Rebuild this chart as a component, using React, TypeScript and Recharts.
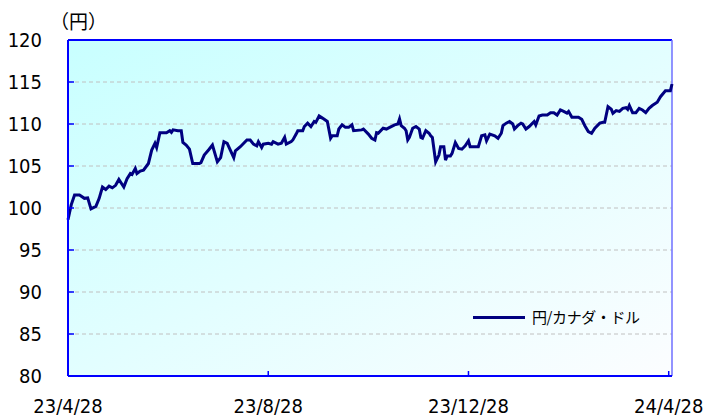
import React from "react";
import {
  LineChart,
  Line,
  XAxis,
  YAxis,
  CartesianGrid,
  ReferenceLine,
} from "recharts";

// day offsets from 2023/4/28
const days = [
  0, 2, 4, 7, 10, 12, 14, 17, 19, 21, 23, 25, 27, 29, 31, 34, 36, 38, 39, 41,
  42, 44, 46, 49, 51, 53, 54, 56, 60, 62, 63, 64, 67, 69, 70, 72, 74, 76, 80, 81,
  83, 86, 88, 91, 93, 95, 97, 101, 102, 105, 109, 111, 113, 115, 116, 118, 119, 122, 124, 125,
  128, 130, 132, 133, 136, 137, 139, 140, 143, 144, 146, 148, 150, 151, 153, 155, 158, 160, 161, 164,
  165, 167, 169, 171, 173, 174, 179, 180, 183, 185, 187, 188, 189, 192, 194, 196, 199, 201, 202, 203,
  205, 206, 207, 208, 210, 212, 214, 215, 216, 218, 220, 221, 222, 224, 226, 227, 229, 230, 231, 233,
  234, 236, 238, 240, 242, 244, 245, 248, 250, 252, 254, 255, 257, 260, 262, 264, 265, 267, 269, 271,
  272, 274, 276, 277, 279, 281, 284, 285, 287, 289, 292, 294, 296, 298, 300, 302, 304, 305, 307, 311,
  313, 315, 317, 319, 321, 324, 326, 327, 329, 331, 332, 334, 336, 338, 340, 341, 342, 344, 346, 348,
  350, 352, 354, 356, 359, 361, 364, 367, 368,
];

const jpyCad = [
  98.6, 100.4, 101.55, 101.55, 101.15, 101.2, 99.9, 100.2, 101.15, 102.5, 102.2, 102.6, 102.4, 102.7, 103.4, 102.5, 103.5, 104.1, 104.0, 104.7,
  104.1, 104.4, 104.5, 105.3, 106.9, 107.7, 107.2, 108.96, 108.96, 109.2, 109.0, 109.3, 109.2, 109.2, 107.8, 107.5, 107.0, 105.3, 105.3, 105.4,
  106.3, 107.0, 107.5, 105.5, 106.0, 107.9, 107.7, 106.0, 106.8, 107.3, 108.1, 108.1, 107.6, 107.4, 107.9, 107.2, 107.6, 107.7, 107.6, 107.9,
  107.6, 107.7, 108.4, 107.6, 107.9, 108.1, 108.8, 109.2, 109.2, 109.7, 110.1, 109.7, 110.3, 110.2, 110.95, 110.7, 110.3, 108.3, 108.6, 108.6,
  109.4, 109.9, 109.6, 109.6, 109.9, 109.2, 109.3, 109.4, 108.8, 108.3, 108.1, 108.96, 108.9, 109.5, 109.4, 109.6, 109.9, 110.0, 110.6, 109.8,
  109.5, 109.2, 108.1, 108.4, 109.5, 109.7, 109.4, 108.4, 108.3, 109.2, 108.9, 108.6, 108.4, 105.5, 106.3, 107.3, 107.3, 105.7, 106.2, 106.2,
  106.5, 107.8, 107.1, 107.0, 107.4, 108.0, 107.3, 107.3, 107.3, 108.6, 108.7, 108.0, 108.8, 108.6, 108.3, 108.9, 109.8, 110.1, 110.3, 110.0,
  109.4, 109.8, 110.1, 110.0, 109.4, 109.7, 110.3, 109.9, 110.95, 111.07, 111.07, 111.35, 111.35, 111.07, 111.67, 111.5, 111.3, 111.5, 110.8, 110.8,
  110.56, 109.76, 109.1, 108.9, 109.5, 110.1, 110.2, 110.2, 112.06, 111.75, 111.27, 111.6, 111.5, 111.86, 111.94, 111.75, 112.2, 111.35, 111.35, 111.86,
  111.67, 111.35, 111.86, 112.2, 112.6, 113.25, 113.96, 113.96, 114.76,
];

const xTickDays = [0, 122, 244, 366];
const xTickLabels = ["23/4/28", "23/8/28", "23/12/28", "24/4/28"];
const yTicks = [80, 85, 90, 95, 100, 105, 110, 115, 120];
const seriesName = "円/カナダ・ドル";
const unitLabel = "（円）";

const data = days.map((d, i) => ({ day: d, value: jpyCad[i] }));

const tickFont = "'DejaVu Sans Condensed', 'DejaVu Sans', sans-serif";
const cjkFont = "'Noto Sans CJK JP', 'Noto Sans', sans-serif";

const YTick = (props: any) => {
  const { x, y, payload } = props;
  return (
    <g>
      <line x1={x} x2={x + 6} y1={y} y2={y} stroke="#0000ff" strokeWidth={1.5} />
      <text
        x={x - 26}
        y={y}
        dy="0.36em"
        textAnchor="end"
        fill="#000"
        fontSize={20}
        fontFamily={tickFont}
      >
        {payload.value}
      </text>
    </g>
  );
};

const XTick = (props: any) => {
  const { x, y, payload } = props;
  const idx = xTickDays.indexOf(payload.value);
  return (
    <g>
      <line x1={x} x2={x} y1={y} y2={y - 5} stroke="#0000ff" strokeWidth={1.5} />
      <text
        x={x}
        y={y + 37}
        textAnchor="middle"
        fill="#000"
        fontSize={20}
        fontFamily={tickFont}
      >
        {idx >= 0 ? xTickLabels[idx] : ""}
      </text>
    </g>
  );
};

export default function App() {
  return (
    <div style={{ position: "absolute", left: 0, top: 0, width: 707, height: 417, background: "#fff" }}>
      <LineChart
        width={707}
        height={417}
        data={data}
        margin={{ top: 40, right: 35, bottom: 0, left: 0 }}
      >
        <defs>
          <linearGradient id="plotBg" x1="0" y1="0" x2="1" y2="1">
            <stop offset="0%" stopColor="#c8ffff" />
            <stop offset="100%" stopColor="#fcfdff" />
          </linearGradient>
        </defs>
        <CartesianGrid
          vertical={false}
          stroke="#c0c0c0"
          strokeDasharray="4 3"
          fill="url(#plotBg)"
          fillOpacity={1}
        />
        <XAxis
          dataKey="day"
          type="number"
          domain={[0, 368]}
          ticks={xTickDays}
          interval={0}
          height={41}
          tickSize={0}
          tickMargin={0}
          tickLine={false}
          axisLine={{ stroke: "#0000ff", strokeWidth: 2 }}
          tick={<XTick />}
        />
        <YAxis
          type="number"
          domain={[80, 120]}
          ticks={yTicks}
          interval={0}
          width={68}
          tickSize={0}
          tickMargin={0}
          tickLine={false}
          axisLine={{ stroke: "#0000ff", strokeWidth: 2 }}
          tick={<YTick />}
        />
        <ReferenceLine y={120} stroke="#0000ff" strokeWidth={2} />
        <ReferenceLine x={368} stroke="#6f6fff" strokeWidth={1.5} />
        <Line
          type="linear"
          dataKey="value"
          stroke="#000080"
          strokeWidth={3}
          dot={false}
          isAnimationActive={false}
        />
      </LineChart>
      <div
        style={{
          position: "absolute",
          left: 50,
          top: 8,
          fontSize: 19,
          fontFamily: cjkFont,
          lineHeight: "26px",
          color: "#000",
        }}
      >
        {unitLabel}
      </div>
      <div
        style={{
          position: "absolute",
          left: 473,
          top: 306,
          display: "flex",
          alignItems: "center",
          height: 22,
        }}
      >
        <div style={{ width: 52, height: 3, background: "#000080" }} />
        <div
          style={{
            marginLeft: 7,
            fontSize: 15,
            fontFamily: cjkFont,
            color: "#000",
            lineHeight: "22px",
            whiteSpace: "nowrap",
            letterSpacing: -0.4,
          }}
        >
          {seriesName}
        </div>
      </div>
    </div>
  );
}
